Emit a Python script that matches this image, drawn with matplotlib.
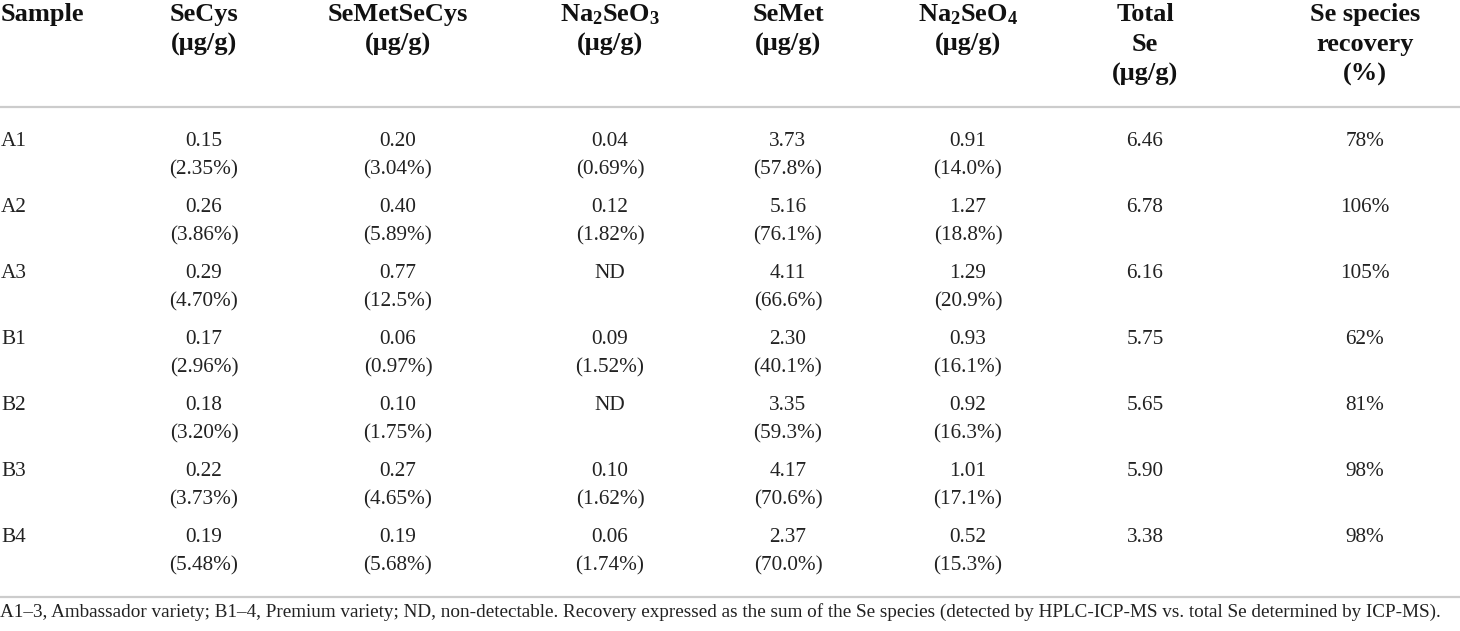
import matplotlib
matplotlib.use("Agg")
import matplotlib.pyplot as plt

plt.rcParams['font.family'] = ['Liberation Serif', 'DejaVu Serif']
plt.rcParams['mathtext.fontset'] = 'custom'
plt.rcParams['mathtext.rm'] = 'Liberation Serif'
plt.rcParams['mathtext.bf'] = 'Liberation Serif:bold'
plt.rcParams['mathtext.default'] = 'bf'

# column headers (one entry per column, lines split by \n)
headers = [
    "Sample",
    "SeCys\n(μg/g)",
    "SeMetSeCys\n(μg/g)",
    "Na$_2$SeO$_3$\n(μg/g)",
    "SeMet\n(μg/g)",
    "Na$_2$SeO$_4$\n(μg/g)",
    "Total\nSe\n(μg/g)",
    "Se species\nrecovery\n(%)",
]

samples = ["A1", "A2", "A3", "B1", "B2", "B3", "B4"]
secys = ["0.15\n(2.35%)", "0.26\n(3.86%)", "0.29\n(4.70%)", "0.17\n(2.96%)",
         "0.18\n(3.20%)", "0.22\n(3.73%)", "0.19\n(5.48%)"]
semetsecys = ["0.20\n(3.04%)", "0.40\n(5.89%)", "0.77\n(12.5%)", "0.06\n(0.97%)",
              "0.10\n(1.75%)", "0.27\n(4.65%)", "0.19\n(5.68%)"]
na2seo3 = ["0.04\n(0.69%)", "0.12\n(1.82%)", "ND", "0.09\n(1.52%)",
           "ND", "0.10\n(1.62%)", "0.06\n(1.74%)"]
semet = ["3.73\n(57.8%)", "5.16\n(76.1%)", "4.11\n(66.6%)", "2.30\n(40.1%)",
         "3.35\n(59.3%)", "4.17\n(70.6%)", "2.37\n(70.0%)"]
na2seo4 = ["0.91\n(14.0%)", "1.27\n(18.8%)", "1.29\n(20.9%)", "0.93\n(16.1%)",
           "0.92\n(16.3%)", "1.01\n(17.1%)", "0.52\n(15.3%)"]
total_se = ["6.46", "6.78", "6.16", "5.75", "5.65", "5.90", "3.38"]
recovery = ["78%", "106%", "105%", "62%", "81%", "98%", "98%"]

footnote = ("A1–3, Ambassador variety; B1–4, Premium variety; ND, non-detectable. "
            "Recovery expressed as the sum of the Se species (detected by HPLC-ICP-MS "
            "vs. total Se determined by ICP-MS).")

columns = [samples, secys, semetsecys, na2seo3, semet, na2seo4, total_se, recovery]

# layout in pixels (baselines)
col_x = [1, 204, 398, 610, 788, 968, 1145, 1365]
head_y0, head_dy = 21, 30
row_y0, row_dy, sub_dy = 146, 66, 28
rule_y = [107, 597]
foot_y = 617

fig = plt.figure(figsize=(14.6, 6.31), dpi=100)
ax = fig.add_axes([0, 0, 1, 1])
ax.set_xlim(0, 1460)
ax.set_ylim(631, 0)
ax.axis('off')

for j, h in enumerate(headers):
    ha = 'left' if j == 0 else 'center'
    for k, line in enumerate(h.split("\n")):
        ax.text(col_x[j], head_y0 + k * head_dy, line, ha=ha, va='baseline',
                fontsize=19, fontweight='bold', color='#111111')

for j, col in enumerate(columns):
    ha = 'left' if j == 0 else 'center'
    for i, cell in enumerate(col):
        for k, line in enumerate(cell.split("\n")):
            ax.text(col_x[j], row_y0 + i * row_dy + k * sub_dy, line, ha=ha,
                    va='baseline', fontsize=15.3, color='#222222')

for y in rule_y:
    ax.axhline(y, color='#cccccc', lw=1.6)

# footnote stretched to roughly the table width
ft = ax.text(0, foot_y, footnote, ha='left', va='baseline', fontsize=14, color='#222222')
fig.canvas.draw()
w = ft.get_window_extent().width
ft.set_fontsize(14 * 1452 / w)

fig.savefig("out.png", dpi=100, facecolor='white')
